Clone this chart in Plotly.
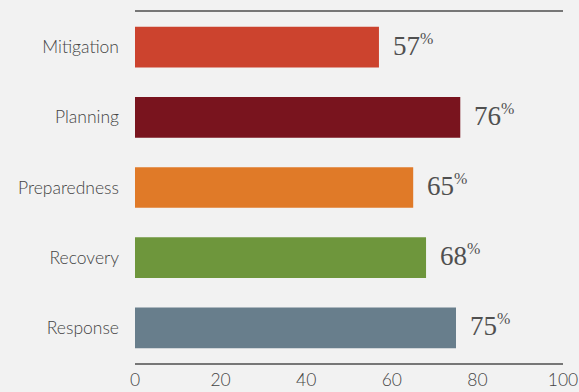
import plotly.graph_objects as go

categories = ["Mitigation", "Planning", "Preparedness", "Recovery", "Response"]
values = [57, 76, 65, 68, 75]
colors = ["#CC432E", "#79141E", "#E07A28", "#6E963C", "#687E8C"]
x_ticks = [0, 20, 40, 60, 80, 100]

fig = go.Figure()
fig.add_trace(
    go.Bar(
        y=categories,
        x=values,
        orientation="h",
        marker=dict(color=colors, line=dict(width=0)),
        hoverinfo="skip",
    )
)

# value labels with a small raised percent sign
for cat, val in zip(categories, values):
    fig.add_annotation(
        x=val,
        y=cat,
        text=f"{val}<sup><span style='font-size:16px'>%</span></sup>",
        showarrow=False,
        xanchor="left",
        xshift=12,
        yshift=2,
        font=dict(family="Liberation Serif, serif", size=27, color="#505050"),
    )

fig.update_layout(
    width=579,
    height=392,
    margin=dict(l=135, r=16, t=12, b=29),
    paper_bgcolor="#F2F2F2",
    plot_bgcolor="#F2F2F2",
    bargap=0.42,
    showlegend=False,
    font=dict(family="Lato, sans-serif", size=16, color="#444444"),
)
fig.update_xaxes(
    range=[0, 100],
    tickvals=x_ticks,
    showgrid=False,
    zeroline=False,
    showline=True,
    linecolor="#777777",
    linewidth=1.5,
    mirror=True,
    ticks="",
    automargin=False,
    tickfont=dict(size=17.5, color="#444444", weight=300),
)
fig.update_yaxes(
    autorange="reversed",
    showgrid=False,
    showline=False,
    ticks="",
    automargin=False,
    ticklabelstandoff=15,
    tickfont=dict(size=17.5, color="#444444", weight=300),
)

fig.write_html(
    "out.html",
    config={"displayModeBar": False},
    post_script="document.body.style.margin='0';document.body.style.overflow='hidden';",
)
